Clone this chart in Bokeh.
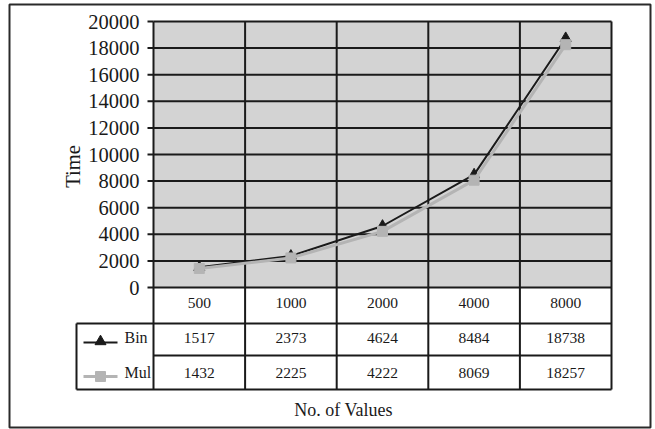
import math
from bokeh.plotting import figure
from bokeh.models import Range1d
from bokeh.core.properties import value
from bokeh.embed import file_html
from bokeh.resources import INLINE

# ---- data ----
sizes = ["500", "1000", "2000", "4000", "8000"]
bin_times = [1517, 2373, 4624, 8484, 18738]
mul_times = [1432, 2225, 4222, 8069, 18257]
series_names = ["Bin", "Mul"]
y_ticks = [0, 2000, 4000, 6000, 8000, 10000, 12000, 14000, 16000, 18000, 20000]
y_label = "Time"
x_label = "No. of Values"

# ---- layout (canvas pixels) ----
W, H = 655, 429
PX0, PX1 = 153, 611      # plot area left/right
PY0, PY1 = 287, 21       # y=0 and y=20000 rows
YMAX = 20000
KX = (PX1 - PX0) / len(sizes)
KY = (PY0 - PY1) / YMAX

def X(px):
    return (px - PX0) / KX

def Y(py):
    return (PY0 - py) / KY

FONT = value("Liberation Serif")
INK = "#1a1a1a"
GRAY = "#b4b4b4"

p = figure(width=W, height=H, output_backend="svg", toolbar_location=None,
           x_axis_type=None, y_axis_type=None, min_border=0,
           x_range=Range1d(X(0), X(W)), y_range=Range1d(Y(H), Y(0)))
p.outline_line_color = None
p.background_fill_color = "white"
p.border_fill_color = "white"

n = len(sizes)
xs = [i + 0.5 for i in range(n)]

# outer border
p.quad(left=X(9), right=X(650), top=Y(4), bottom=Y(427),
       fill_color=None, line_color="#2a2a2a", line_width=2)

# plot background
p.quad(left=0, right=n, bottom=0, top=YMAX, fill_color="#d3d3d3", line_color=None)

# horizontal grid lines
p.segment(x0=[0] * len(y_ticks), x1=[n] * len(y_ticks), y0=y_ticks, y1=y_ticks,
          line_color=INK, line_width=2)

# table geometry
row_hdr_bot = 323
row_sep = 355
row_bot = 389
leg_left = 76

# vertical lines (grid + table columns)
p.segment(x0=list(range(n + 1)), x1=list(range(n + 1)),
          y0=[YMAX] * (n + 1), y1=[Y(row_bot)] * (n + 1),
          line_color=INK, line_width=2)

# table horizontal lines
p.segment(x0=[X(leg_left), 0, X(leg_left)], x1=[n, n, n],
          y0=[Y(row_hdr_bot), Y(row_sep), Y(row_bot)],
          y1=[Y(row_hdr_bot), Y(row_sep), Y(row_bot)],
          line_color=INK, line_width=2)
p.segment(x0=[X(leg_left)], x1=[X(leg_left)], y0=[Y(row_hdr_bot)], y1=[Y(row_bot)],
          line_color=INK, line_width=2)

# y ticks + labels
p.segment(x0=[X(147)] * len(y_ticks), x1=[0] * len(y_ticks), y0=y_ticks, y1=y_ticks,
          line_color=INK, line_width=2)
p.text(x=[X(139)] * len(y_ticks), y=y_ticks, text=[str(t) for t in y_ticks],
       text_font=FONT, text_font_size="20.5px", text_color=INK,
       text_align="right", text_baseline="middle")

# y label
p.text(x=[X(72)], y=[Y(166)], text=[y_label], angle=math.pi / 2,
       text_font=FONT, text_font_size="20.5px", text_color=INK,
       text_align="center", text_baseline="middle")

# series
p.line(xs, bin_times, line_color=INK, line_width=2)
p.scatter(xs, bin_times, marker="triangle", size=11, fill_color=INK, line_color=INK)
p.line(xs, mul_times, line_color=GRAY, line_width=3)
p.scatter(xs, mul_times, marker="square", size=10, fill_color=GRAY, line_color=GRAY)

# table text
p.text(x=xs, y=[Y(302)] * n, text=sizes, text_font=FONT, text_font_size="15.5px",
       text_color=INK, text_align="center", text_baseline="middle")
p.text(x=xs, y=[Y(337)] * n, text=[str(v) for v in bin_times], text_font=FONT,
       text_font_size="15.5px", text_color=INK, text_align="center", text_baseline="middle")
p.text(x=xs, y=[Y(372)] * n, text=[str(v) for v in mul_times], text_font=FONT,
       text_font_size="15.5px", text_color=INK, text_align="center", text_baseline="middle")

# legend keys in table
p.segment(x0=[X(83)], x1=[X(117)], y0=[Y(342)], y1=[Y(342)], line_color=INK, line_width=2)
p.scatter([X(100)], [Y(341)], marker="triangle", size=11, fill_color=INK, line_color=INK)
p.segment(x0=[X(83)], x1=[X(117)], y0=[Y(376)], y1=[Y(376)], line_color=GRAY, line_width=3)
p.scatter([X(100)], [Y(376)], marker="square", size=10, fill_color=GRAY, line_color=GRAY)
p.text(x=[X(124), X(124)], y=[Y(337), Y(372)], text=series_names, text_font=FONT,
       text_font_size="16px", text_color=INK, text_align="left", text_baseline="middle")

# x label
p.text(x=[X(343)], y=[Y(409)], text=[x_label], text_font=FONT, text_font_size="18px",
       text_color=INK, text_align="center", text_baseline="middle")

open("out.html", "w").write(file_html(p, INLINE))
